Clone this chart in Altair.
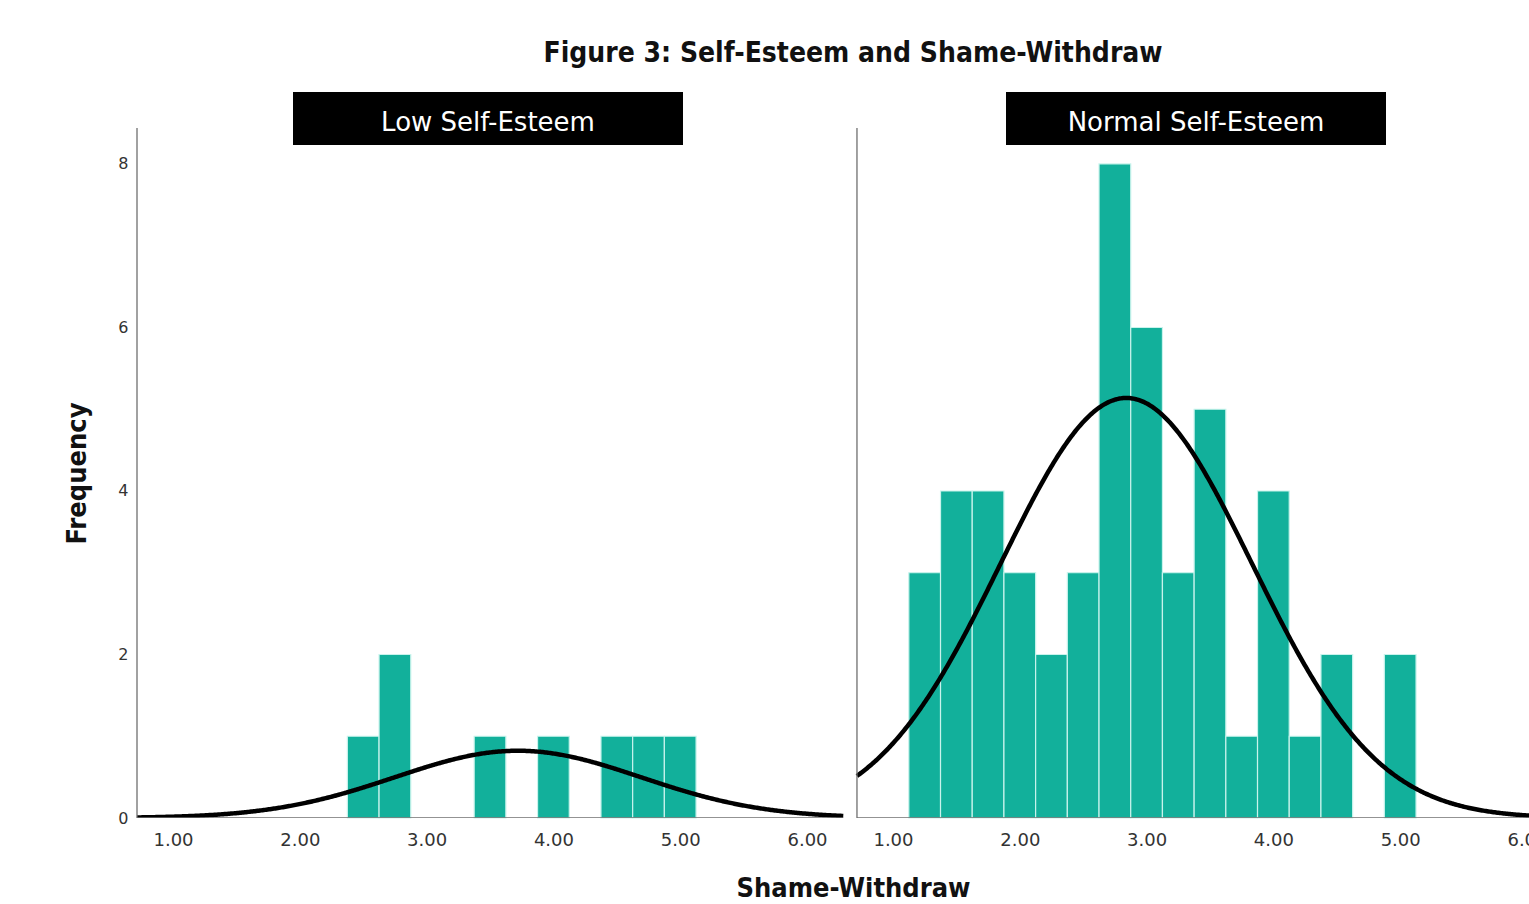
import altair as alt
import pandas as pd

# Histogram bins (width 0.25) and counts for each self-esteem group
low_bin_start = [2.375, 2.625, 3.375, 3.875, 4.375, 4.625, 4.875]
low_counts = [1, 2, 1, 1, 1, 1, 1]

normal_bin_start = [1.125, 1.375, 1.625, 1.875, 2.125, 2.375, 2.625, 2.875,
                    3.125, 3.375, 3.625, 3.875, 4.125, 4.375, 4.875]
normal_counts = [3, 4, 4, 3, 2, 3, 8, 6, 3, 5, 1, 4, 1, 2, 2]

BIN_WIDTH = 0.25

# Fitted normal curve parameters: mean, sd, n
low_fit = (3.72, 0.97, 8)
normal_fit = (2.84, 0.99, 51)

group_titles = ["Low Self-Esteem", "Normal Self-Esteem"]
x_ticks = [1, 2, 3, 4, 5, 6]
y_ticks = [0, 2, 4, 6, 8]

# Both panels share one plotting area; the second panel is shifted along x
PANEL_RANGE = (0.716, 6.284)       # x extent of one panel
PANEL_SHIFT = 5.678                # offset of the second panel (includes the gap)
PX_PER_UNIT = 126.8
VIEW_W, VIEW_H = 1392, 690
X_DOMAIN = [PANEL_RANGE[0], PANEL_RANGE[0] + VIEW_W / PX_PER_UNIT]
Y_DOMAIN = [0, 8.44]

BAR_FILL = "#12b09b"
BAR_EDGE = "#c8f3ec"
AXIS_LINE = "#6f6f6f"
FONT = "DejaVu Sans"
BOLD_FONT = "DejaVu Sans Condensed"

bars_df = pd.DataFrame({
    "start": low_bin_start + normal_bin_start,
    "count": low_counts + normal_counts,
    "shift": [0.0] * len(low_bin_start) + [PANEL_SHIFT] * len(normal_bin_start),
})

frame_df = pd.DataFrame({
    "x0": [PANEL_RANGE[0], PANEL_RANGE[0] + PANEL_SHIFT],
    "x1": [PANEL_RANGE[1], PANEL_RANGE[1] + PANEL_SHIFT + 1.0],
})

x_scale = alt.Scale(domain=X_DOMAIN, nice=False, zero=False)
y_scale = alt.Scale(domain=Y_DOMAIN, nice=False)

label_expr = (
    f"format(datum.value > {PANEL_RANGE[1]} ? datum.value - {PANEL_SHIFT} : datum.value, '.2f')"
)
tick_values = x_ticks + [round(v + PANEL_SHIFT, 3) for v in x_ticks]

x_axis = alt.Axis(
    values=tick_values, labelExpr=label_expr, grid=False, ticks=False, domain=False,
    labelFont=FONT, labelFontSize=18, labelColor="#333333", labelPadding=13,
    labelOverlap=False,
    title="Shame-Withdraw", titleFont=BOLD_FONT, titleFontSize=27,
    titleFontWeight="bold", titleColor="#111111", titleX=716, titleY=57,
)
y_axis = alt.Axis(
    values=y_ticks, format="d", grid=False, ticks=False, domain=False,
    labelFont=FONT, labelFontSize=16, labelColor="#333333", labelPadding=9,
    title="Frequency", titleFont=BOLD_FONT, titleFontSize=27,
    titleFontWeight="bold", titleColor="#111111", titlePadding=26,
)

bars = alt.Chart(bars_df).transform_calculate(
    x0="datum.start + datum.shift",
    x1=f"datum.start + datum.shift + {BIN_WIDTH}",
).mark_rect(fill=BAR_FILL, stroke=BAR_EDGE, strokeWidth=1.2).encode(
    x=alt.X("x0:Q", scale=x_scale, axis=x_axis),
    x2="x1:Q",
    y=alt.Y("count:Q", scale=y_scale, axis=y_axis),
    y2=alt.datum(0),
)


def normal_curve(fit, shift, hi):
    mean, sd, n = fit
    return alt.Chart(alt.sequence(PANEL_RANGE[0], hi, 0.01, as_="v")).transform_calculate(
        freq=f"{n * BIN_WIDTH} / ({sd} * sqrt(2 * PI)) * exp(-0.5 * pow((datum.v - {mean}) / {sd}, 2))",
        xs=f"datum.v + {shift}",
    ).mark_line(color="#000000", strokeWidth=4.5, clip=True).encode(
        x=alt.X("xs:Q", scale=x_scale),
        y=alt.Y("freq:Q", scale=y_scale),
    )


curve_low = normal_curve(low_fit, 0.0, PANEL_RANGE[1] + 0.005)
curve_normal = normal_curve(normal_fit, PANEL_SHIFT, PANEL_RANGE[1] + 0.3)

# Panel frames: a baseline along y = 0 and a vertical axis line for each panel
baselines = alt.Chart(frame_df).mark_rule(color=AXIS_LINE, strokeWidth=1.3, clip=True).encode(
    x=alt.X("x0:Q", scale=x_scale), x2="x1:Q", y=alt.datum(0, scale=y_scale),
)
vlines = alt.Chart(frame_df).mark_rule(color=AXIS_LINE, strokeWidth=1.3).encode(
    x=alt.X("x0:Q", scale=x_scale), y=alt.datum(0, scale=y_scale), y2=alt.datum(Y_DOMAIN[1]),
)

# Black strip headers naming each group
hdr_df = pd.DataFrame({
    "label": group_titles,
    "hx0": [156, 869],
    "hx1": [546, 1249],
})
header_box = alt.Chart(hdr_df).mark_rect(fill="#000000").encode(
    x=alt.X("hx0:Q", scale=None), x2="hx1:Q", y=alt.value(-36), y2=alt.value(17),
)
header_text = alt.Chart(hdr_df).transform_calculate(
    hc="(datum.hx0 + datum.hx1) / 2"
).mark_text(font=FONT, fontSize=26, color="#ffffff", align="center", baseline="middle").encode(
    text="label:N", x=alt.X("hc:Q", scale=None), y=alt.value(-5),
)

chart = alt.layer(
    bars, curve_low, curve_normal, baselines, vlines, header_box, header_text
).properties(
    width=VIEW_W,
    height=VIEW_H,
    background="#ffffff",
    title=alt.TitleParams(
        "Figure 3: Self-Esteem and Shame-Withdraw",
        font=BOLD_FONT, fontSize=28, fontWeight="bold", color="#111111",
        anchor="middle", frame="group", dx=20, offset=24,
    ),
    autosize=alt.AutoSizeParams(type="none"),
    padding={"left": 137, "top": 128, "right": 0, "bottom": 86},
).configure_view(stroke="transparent", strokeWidth=0)

chart.save("out.html", embed_options={"renderer": "svg", "actions": False})
